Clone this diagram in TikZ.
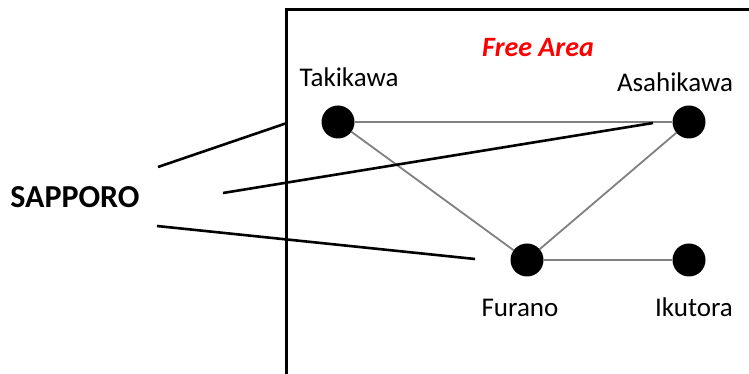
\documentclass[tikz,border=0pt]{standalone}
\usepackage{fontspec}
\setmainfont{Carlito}
\usetikzlibrary{backgrounds}
\begin{document}
\begin{tikzpicture}[x=1pt,y=1pt,
  dot/.style={circle,fill=black,inner sep=0pt,minimum size=33pt},
  lbl/.style={font=\fontsize{27}{30}\selectfont,inner sep=0pt},
  edge/.style={draw=black!50,line width=1.8pt},
  pointer/.style={draw=black,line width=2.6pt}]
\useasboundingbox (0,0) rectangle (749,374);
\begin{scope}
\clip (0,0) rectangle (749,374);
\draw[line width=3pt] (286,-20) coordinate (bl) rectangle (780,364) coordinate (tr);
\end{scope}
\node[dot] (tak) at (338,252) {};
\node[dot] (asa) at (689,252) {};
\node[dot] (fur) at (527,114) {};
\node[dot] (iku) at (689,114) {};
\begin{scope}[on background layer]
\path[edge] (tak) -- (asa);
\path[edge] (tak) -- (fur);
\path[edge] (asa) -- (fur);
\path[edge] (fur) -- (iku);
\end{scope}
\node[lbl] (ltak) at (349,297) {Takikawa};
\node[lbl] (lasa) at (675,292) {Asahikawa};
\node[lbl] (lfur) at (520,66) {Furano};
\node[lbl] (liku) at (694,67) {Ikutora};
\node[lbl,text=red,font=\fontsize{28}{31}\selectfont\bfseries\itshape] (free) at (538,326) {Free Area};
\node[inner sep=0pt,font=\fontsize{32}{36}\selectfont\bfseries] (sap) at (75,177) {SAPPORO};
\coordinate (s1) at (158,207);
\coordinate (e1) at (287,251);
\coordinate (s2) at (223,181);
\coordinate (e2) at (653,251);
\coordinate (s3) at (157,148);
\coordinate (e3) at (475,115);
\draw[pointer] (s1) -- (e1);
\draw[pointer] (s2) -- (e2);
\draw[pointer] (s3) -- (e3);
\end{tikzpicture}
\end{document}
